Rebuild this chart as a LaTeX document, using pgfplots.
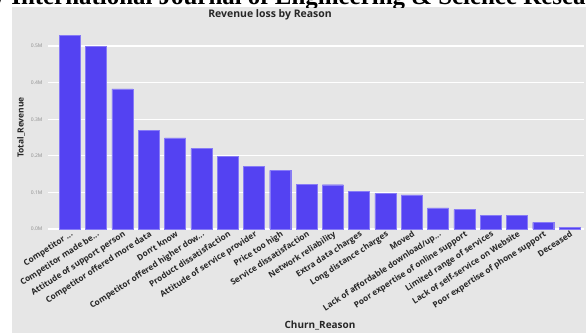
\documentclass[border=0pt]{standalone}
\usepackage{fontspec}
\setmainfont{Open Sans}
\newfontfamily\serifhead{Liberation Serif}
\usepackage{pgfplots}
\pgfplotsset{compat=1.18}
\definecolor{barc}{RGB}{84,66,242}
\definecolor{panel}{RGB}{230,230,230}
\newcommand{\ddd}{{.}{.}{.}}
\begin{document}
\begin{tikzpicture}[x=1bp,y=1bp]
\begin{scope}[shift={(-48,-106)}]
\useasboundingbox (0,0) rectangle (586,335);
\fill[white] (0,0) rectangle (586,335);
\fill[panel] (12,2) rectangle (586,328);
\begin{scope}
\clip (0,328) rectangle (586,335);
\node[anchor=base west, inner sep=0] at (-2,331) {\serifhead\bfseries\fontsize{25}{25}\selectfont / International Journal of Engineering \& Science Research};
\end{scope}
\end{scope}
\begin{axis}[anchor=south west, scale only axis,
  width=536bp, height=199bp,
  xmin=-0.83, xmax=19.55, ymin=0, ymax=0.544,
  ybar, bar width=21bp,
  axis line style={draw=none}, major tick length=0pt,
  ytick={0,0.1,0.2,0.3,0.4,0.5},
  ymajorgrids, grid style={white, line width=1.3pt},
  /pgf/number format/assume math mode=true,
  yticklabel={\pgfmathprintnumber[fixed,precision=1,fixed zerofill]{\tick}M},
  yticklabel style={font=\fontsize{5}{5}\selectfont, text=black!45, xshift=-2bp},
  xtick={0,1,2,3,4,5,6,7,8,9,10,11,12,13,14,15,16,17,18,19},
  xticklabels={{Competitor \ddd}, {Competitor made be\ddd}, Attitude of support person, Competitor offered more data, Don't know, {Competitor offered higher dow\ddd}, Product dissatisfaction, Attitude of service provider, Price too high, Service dissatisfaction, Network reliability, Extra data charges, Long distance charges, Moved, {Lack of affordable download/up\ddd}, Poor expertise of online support, Limited range of services, Lack of self-service on Website, Poor expertise of phone support, Deceased},
  xticklabel style={rotate=33, anchor=north east, font=\bfseries\fontsize{8.3}{8.3}\selectfont, text=black!85, inner sep=1pt, xshift=0.5bp},
  ylabel={Total\_Revenue},
  ylabel style={at={(axis description cs:-0.05,0.51)}, anchor=center, font=\bfseries\fontsize{8.5}{8.5}\selectfont, text=black!85},
]
\addplot[fill=barc, draw=barc!70!white, line width=0.4pt] coordinates {
(0,0.529) (1,0.499) (2,0.383) (3,0.270) (4,0.249) (5,0.220) (6,0.199) (7,0.171) (8,0.160) (9,0.123)
(10,0.121) (11,0.102) (12,0.097) (13,0.093) (14,0.058) (15,0.053) (16,0.037) (17,0.037) (18,0.018) (19,0.005)};
\end{axis}
\begin{scope}[shift={(-48,-106)}]
\node[font=\bfseries\fontsize{10.5}{10.5}\selectfont, text=black!85] at (270,320) {Revenue loss by Reason};
\node[font=\bfseries\fontsize{10}{10}\selectfont, text=black!85] at (320,10) {Churn\_Reason};
\end{scope}
\end{tikzpicture}
\end{document}
